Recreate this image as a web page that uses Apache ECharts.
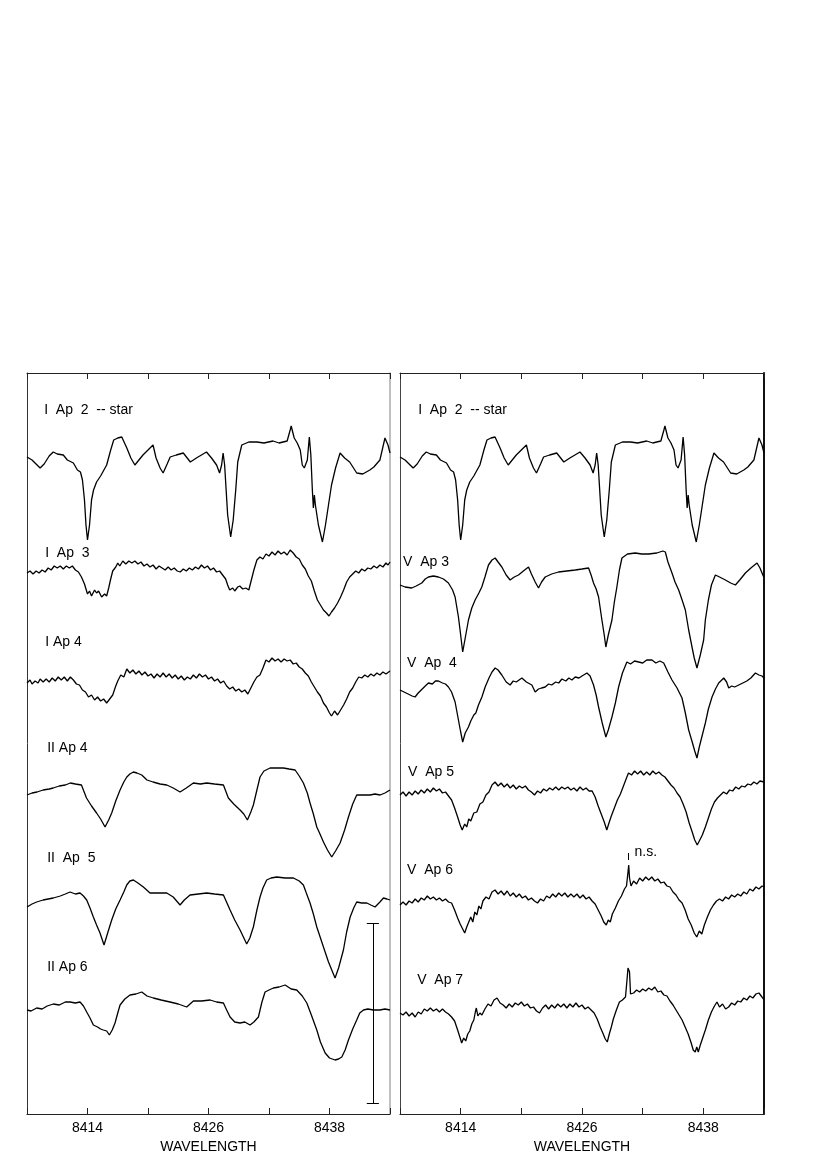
<!DOCTYPE html>
<html>
<head>
<meta charset="utf-8">
<title>Ca II triplet spectra</title>
<script src="https://cdn.jsdelivr.net/npm/echarts@6/dist/echarts.min.js"></script>
<style>
  html, body { margin: 0; padding: 0; background: #fff; }
  #chart { width: 831px; height: 1175px; }
</style>
</head>
<body>
<div id="chart"></div>
<script>
// wavelength axis
const waveMin = 8408
const waveMax = 8444
const tickLabels = [8414, 8426, 8438]

// each spectrum: [wavelength, flux relative to its own continuum]
const starSpec = [
  [8408.0,3],[8408.5,0],[8409.0,-5],[8409.3,-8],[8409.7,-4],[8410.2,4],[8410.6,8],[8411.0,6],[8411.6,5],
  [8412.0,0],[8412.6,-3],[8413.0,-10],[8413.3,-12],[8413.5,-20],[8413.7,-40],[8413.85,-65],[8414.0,-80],
  [8414.2,-65],[8414.4,-40],[8414.6,-30],[8414.9,-22],[8415.3,-16],[8415.9,-5],[8416.3,10],[8416.6,20],
  [8417.0,22],[8417.4,23],[8417.9,12],[8418.3,2],[8418.7,-5],[8419.1,0],[8419.5,5],[8420.0,10],[8420.5,15],
  [8420.8,2],[8421.2,-8],[8421.5,-13],[8421.9,-4],[8422.2,3],[8422.8,5],[8423.5,7],[8424.2,-2],[8424.8,2],
  [8425.3,5],[8425.8,8],[8426.3,2],[8426.8,-5],[8427.1,-13],[8427.3,-5],[8427.45,7],[8427.6,-5],[8427.75,-30],
  [8427.9,-55],[8428.2,-77],[8428.45,-60],[8428.7,-30],[8428.9,-2],[8429.3,15],[8430.0,18],[8430.8,18],
  [8431.5,17],[8432.4,19],[8433.0,17],[8433.8,19],[8434.1,30],[8434.2,34],[8434.5,22],[8434.8,17],[8435.1,10],
  [8435.3,-5],[8435.5,-8],[8435.8,0],[8436.0,23],[8436.15,5],[8436.3,-30],[8436.4,-48],[8436.5,-35],
  [8436.6,-45],[8436.9,-65],[8437.3,-82],[8437.6,-65],[8437.9,-45],[8438.2,-25],[8438.6,-8],[8439.05,7],
  [8439.5,2],[8440.0,-2],[8440.7,-13],[8441.3,-14],[8442.0,-10],[8442.4,-7],[8443.0,0],[8443.5,22],
  [8443.8,15],[8444.0,7]
]

const iAp3 = [
  [8408.0,-3],[8408.3,-1],[8408.6,-4],[8408.9,-1],[8409.2,-3],[8409.5,0],[8409.8,-2],[8410.1,2],[8410.4,0],
  [8410.7,4],[8411.0,2],[8411.3,4],[8411.6,1],[8411.9,4],[8412.2,2],[8412.5,4],[8412.8,0],[8413.1,-2],
  [8413.4,-7],[8413.7,-14],[8414.0,-24],[8414.2,-21],[8414.4,-26],[8414.7,-20],[8414.9,-23],[8415.1,-21],
  [8415.4,-27],[8415.7,-24],[8415.9,-26],[8416.1,-18],[8416.3,-9],[8416.5,-1],[8416.8,3],[8417.0,7],
  [8417.2,4],[8417.5,9],[8417.8,6],[8418.1,9],[8418.4,7],[8418.7,9],[8419.0,6],[8419.3,8],[8419.6,4],
  [8419.9,6],[8420.2,3],[8420.5,5],[8420.8,1],[8421.1,4],[8421.4,2],[8421.7,0],[8422.0,3],[8422.3,0],
  [8422.6,2],[8422.9,-1],[8423.2,-2],[8423.5,1],[8423.8,-1],[8424.1,2],[8424.4,0],[8424.7,3],[8425.0,1],
  [8425.3,5],[8425.6,2],[8425.9,4],[8426.2,0],[8426.5,2],[8426.8,-2],[8427.1,-1],[8427.4,-5],[8427.7,-9],
  [8427.9,-15],[8428.1,-20],[8428.4,-18],[8428.6,-21],[8428.9,-17],[8429.1,-16],[8429.4,-19],[8429.7,-18],
  [8430.0,-20],[8430.2,-12],[8430.5,0],[8430.8,10],[8431.1,13],[8431.4,11],[8431.7,16],[8432.0,14],
  [8432.3,18],[8432.6,15],[8432.9,19],[8433.2,16],[8433.5,18],[8433.8,15],[8434.1,20],[8434.4,17],
  [8434.7,13],[8435.0,11],[8435.3,5],[8435.6,1],[8435.9,-6],[8436.2,-11],[8436.5,-21],[8436.8,-30],
  [8437.1,-35],[8437.4,-40],[8437.7,-43],[8437.95,-46],[8438.2,-42],[8438.5,-38],[8438.8,-33],[8439.1,-27],
  [8439.4,-20],[8439.7,-12],[8440.0,-7],[8440.3,-4],[8440.6,-1],[8440.9,-3],[8441.2,1],[8441.5,-1],
  [8441.8,2],[8442.1,1],[8442.4,4],[8442.7,2],[8443.0,5],[8443.3,3],[8443.6,7],[8443.8,5],[8444.0,8]
]

const iAp4 = [
  [8408.0,-3],[8408.3,0],[8408.5,-4],[8408.8,-1],[8409.1,-3],[8409.3,1],[8409.6,-2],[8409.9,1],[8410.2,-2],
  [8410.5,2],[8410.8,-1],[8411.1,3],[8411.4,0],[8411.7,3],[8412.0,-1],[8412.3,3],[8412.6,0],[8412.9,-4],
  [8413.2,-5],[8413.5,-10],[8413.8,-12],[8414.1,-17],[8414.4,-15],[8414.7,-20],[8415.0,-17],[8415.3,-21],
  [8415.6,-19],[8415.9,-23],[8416.2,-19],[8416.5,-15],[8416.8,-6],[8417.0,-1],[8417.3,5],[8417.6,3],
  [8417.9,11],[8418.2,7],[8418.5,10],[8418.8,6],[8419.1,9],[8419.4,5],[8419.7,8],[8420.0,4],[8420.3,6],
  [8420.6,2],[8420.9,6],[8421.2,3],[8421.5,7],[8421.8,3],[8422.1,6],[8422.4,2],[8422.7,5],[8423.0,1],
  [8423.3,4],[8423.6,0],[8423.9,3],[8424.2,1],[8424.5,5],[8424.8,2],[8425.1,6],[8425.4,3],[8425.7,5],
  [8426.0,1],[8426.3,3],[8426.6,-1],[8426.9,1],[8427.2,-3],[8427.5,-1],[8427.8,-6],[8428.1,-9],[8428.4,-7],
  [8428.7,-11],[8429.0,-9],[8429.3,-12],[8429.6,-10],[8429.9,-14],[8430.2,-8],[8430.5,-2],[8430.8,3],
  [8431.1,5],[8431.4,12],[8431.7,20],[8432.0,18],[8432.3,22],[8432.6,19],[8432.9,21],[8433.2,18],
  [8433.5,21],[8433.8,19],[8434.1,20],[8434.4,16],[8434.7,17],[8435.0,13],[8435.3,11],[8435.6,7],
  [8435.9,4],[8436.2,-2],[8436.5,-7],[8436.8,-12],[8437.1,-16],[8437.4,-23],[8437.7,-27],[8438.0,-33],
  [8438.2,-36],[8438.5,-31],[8438.8,-35],[8439.1,-30],[8439.4,-25],[8439.7,-19],[8440.0,-12],[8440.3,-8],
  [8440.6,-2],[8440.9,3],[8441.2,2],[8441.5,5],[8441.8,3],[8442.1,6],[8442.4,4],[8442.7,7],[8443.0,5],
  [8443.3,8],[8443.6,6],[8444.0,9]
]

const iiAp4 = [
  [8408.0,-5],[8408.5,-3],[8409.0,-2],[8409.6,0],[8410.2,1],[8410.6,2],[8411.2,4],[8411.8,5],[8412.3,7],
  [8412.8,6],[8413.4,5],[8413.9,-8],[8414.4,-16],[8414.9,-23],[8415.3,-29],[8415.74,-37],[8416.1,-30],
  [8416.4,-23],[8416.8,-11],[8417.23,0],[8417.6,8],[8417.9,13],[8418.2,16],[8418.55,18],[8418.9,17],
  [8419.38,15],[8419.9,10],[8420.5,8],[8421.2,6],[8421.86,5],[8422.5,2],[8423.18,-2],[8423.8,2],[8424.5,7],
  [8425.2,6],[8425.82,7],[8426.6,6],[8427.48,5],[8427.97,-8],[8428.5,-14],[8429.13,-20],[8429.5,-24],
  [8429.86,-30],[8430.2,-22],[8430.45,-15],[8430.8,0],[8431.11,13],[8431.5,19],[8432.11,22],[8432.8,22],
  [8433.43,22],[8434.0,21],[8434.59,20],[8435.0,14],[8435.41,7],[8435.8,-3],[8436.07,-13],[8436.4,-24],
  [8436.74,-37],[8437.1,-45],[8437.4,-52],[8437.8,-60],[8438.22,-67],[8438.6,-61],[8439.05,-53],
  [8439.5,-40],[8439.88,-27],[8440.3,-14],[8440.7,-5],[8441.3,-5],[8442.03,-5],[8442.5,-4],[8443.02,-5],
  [8443.5,-3],[8444.0,0]
]

const iiAp5 = [
  [8408.0,-7],[8408.5,-4],[8408.96,-2],[8409.6,0],[8410.61,2],[8411.3,4],[8411.8,6],[8412.27,8],[8412.8,6],
  [8413.26,7],[8413.6,4],[8413.92,0],[8414.25,-8],[8414.58,-17],[8414.9,-25],[8415.24,-33],[8415.64,-45],
  [8416.0,-33],[8416.4,-20],[8416.8,-9],[8417.23,0],[8417.6,8],[8417.89,15],[8418.2,19],[8418.55,20],
  [8419.0,17],[8419.54,13],[8420.2,7],[8421.0,7],[8421.86,7],[8422.5,3],[8423.18,-5],[8423.6,0],[8424.17,5],
  [8425.0,6],[8425.82,7],[8426.6,6],[8427.48,5],[8428.14,-10],[8428.6,-20],[8429.13,-30],[8429.79,-44],
  [8430.1,-38],[8430.45,-27],[8430.8,-10],[8431.11,3],[8431.4,12],[8431.77,20],[8432.2,22],[8432.77,23],
  [8433.6,22],[8434.42,22],[8435.0,19],[8435.41,15],[8435.7,7],[8436.07,-3],[8436.4,-14],[8436.74,-27],
  [8437.4,-47],[8437.9,-62],[8438.55,-78],[8438.9,-68],[8439.38,-50],[8439.7,-32],[8440.05,-17],
  [8440.4,-8],[8440.7,-2],[8441.2,-3],[8441.7,-3],[8442.1,-5],[8442.52,-7],[8443.0,-2],[8443.35,2],
  [8443.7,1],[8444.0,0]
]

const iiAp6 = [
  [8408.0,0],[8408.4,-1],[8408.96,2],[8409.5,1],[8410.0,4],[8410.61,6],[8411.2,5],[8411.8,8],[8412.27,8],
  [8412.8,7],[8413.26,8],[8413.6,4],[8413.92,-2],[8414.25,-8],[8414.58,-15],[8415.0,-17],[8415.3,-19],
  [8415.57,-20],[8415.9,-21],[8416.17,-25],[8416.45,-20],[8416.73,-13],[8417.0,-3],[8417.23,5],[8417.7,11],
  [8418.22,15],[8418.8,16],[8419.38,18],[8419.9,14],[8420.53,12],[8421.3,10],[8422.19,8],[8423.0,6],
  [8423.84,3],[8424.5,9],[8425.3,9],[8426.16,10],[8426.8,8],[8427.48,7],[8427.8,0],[8428.14,-7],
  [8428.6,-12],[8429.13,-13],[8429.6,-12],[8430.12,-15],[8430.5,-12],[8430.95,-7],[8431.3,8],[8431.61,18],
  [8432.0,20],[8432.44,22],[8433.0,23],[8433.6,25],[8434.2,21],[8434.75,20],[8435.3,14],[8435.75,7],
  [8436.2,-5],[8436.74,-20],[8437.1,-32],[8437.57,-43],[8438.0,-48],[8438.55,-50],[8438.9,-49],
  [8439.22,-47],[8439.55,-40],[8439.88,-30],[8440.3,-19],[8440.7,-10],[8441.0,-3],[8441.37,0],[8441.8,1],
  [8442.36,0],[8443.0,0],[8443.5,1],[8444.0,0]
]

const vAp3 = [
  [8408.0,-5],[8408.5,-7],[8409.16,-8],[8409.6,-6],[8410.15,-3],[8410.5,1],[8410.81,3],[8411.3,4],
  [8411.8,3],[8412.3,1],[8412.79,-3],[8413.2,-10],[8413.45,-17],[8413.78,-37],[8414.0,-55],[8414.2,-72],
  [8414.45,-58],[8414.77,-40],[8415.1,-28],[8415.43,-20],[8415.8,-13],[8416.09,-7],[8416.4,3],[8416.75,15],
  [8417.1,20],[8417.41,22],[8417.7,18],[8418.07,13],[8418.5,5],[8418.89,0],[8419.3,3],[8419.72,5],
  [8420.2,9],[8420.71,13],[8421.0,6],[8421.37,-2],[8421.7,-8],[8422.0,-2],[8422.36,3],[8423.0,6],
  [8423.68,8],[8424.5,9],[8425.33,10],[8426.0,11],[8426.65,12],[8426.9,5],[8427.14,-3],[8427.4,-9],
  [8427.64,-17],[8427.97,-40],[8428.2,-55],[8428.36,-67],[8428.6,-55],[8428.96,-40],[8429.2,-22],
  [8429.45,-7],[8429.7,10],[8429.95,22],[8430.5,26],[8431.27,27],[8431.9,26],[8432.59,26],[8433.4,27],
  [8434.0,29],[8434.24,28],[8434.5,18],[8434.9,7],[8435.2,-2],[8435.56,-10],[8435.9,-20],[8436.22,-30],
  [8436.55,-50],[8436.9,-68],[8437.1,-78],[8437.37,-88],[8437.7,-75],[8438.03,-60],[8438.2,-40],
  [8438.5,-20],[8438.8,-5],[8439.19,5],[8439.6,3],[8440.18,0],[8440.7,-3],[8441.17,-5],[8441.6,0],
  [8442.16,7],[8442.7,12],[8443.31,17],[8443.6,12],[8443.97,3]
]

const vAp4 = [
  [8408.0,-5],[8408.4,-7],[8408.8,-9],[8409.2,-11],[8409.49,-12],[8409.8,-8],[8410.1,-5],[8410.5,-1],
  [8410.81,2],[8411.2,1],[8411.5,4],[8411.8,4],[8412.2,2],[8412.5,1],[8412.79,-2],[8413.1,-7],[8413.45,-17],
  [8413.78,-35],[8414.0,-47],[8414.2,-57],[8414.45,-48],[8414.77,-42],[8415.0,-36],[8415.3,-30],
  [8415.5,-28],[8415.76,-20],[8416.1,-12],[8416.42,-2],[8416.8,7],[8417.1,13],[8417.41,17],[8417.7,15],
  [8418.07,10],[8418.5,3],[8418.89,0],[8419.2,4],[8419.5,3],[8420.05,7],[8420.5,3],[8421.04,0],[8421.37,-7],
  [8421.7,-4],[8422.0,-3],[8422.36,-2],[8422.7,1],[8423.0,0],[8423.4,3],[8423.7,2],[8424.01,6],[8424.4,4],
  [8424.7,7],[8425.0,5],[8425.33,8],[8425.7,7],[8426.0,9],[8426.49,12],[8426.8,9],[8427.14,0],[8427.4,-10],
  [8427.64,-22],[8428.0,-38],[8428.36,-52],[8428.6,-45],[8428.96,-32],[8429.3,-18],[8429.62,-2],[8430.0,12],
  [8430.44,23],[8430.8,21],[8431.2,24],[8431.6,23],[8432.0,22],[8432.4,25],[8432.92,25],[8433.3,22],
  [8433.7,24],[8434.08,22],[8434.5,13],[8434.9,5],[8435.4,-3],[8435.89,-13],[8436.2,-27],[8436.55,-45],
  [8436.9,-57],[8437.15,-66],[8437.37,-73],[8437.6,-62],[8437.9,-50],[8438.2,-38],[8438.5,-24],
  [8438.86,-12],[8439.2,-4],[8439.52,2],[8440.02,7],[8440.3,3],[8440.51,-3],[8440.8,-1],[8441.1,-2],
  [8441.5,0],[8441.9,2],[8442.3,4],[8442.7,7],[8443.15,12],[8443.5,10],[8443.8,9],[8444.0,7]
]

const vAp5 = [
  [8408.0,-5],[8408.3,-2],[8408.6,-6],[8408.9,-2],[8409.2,-5],[8409.5,-1],[8409.8,-4],[8410.1,0],[8410.4,-3],
  [8410.7,1],[8411.0,-2],[8411.3,2],[8411.6,-1],[8411.9,1],[8412.2,-3],[8412.5,-2],[8412.8,-6],[8413.1,-10],
  [8413.4,-18],[8413.7,-27],[8413.95,-35],[8414.15,-40],[8414.4,-34],[8414.6,-37],[8414.8,-29],[8415.0,-31],
  [8415.3,-23],[8415.6,-22],[8415.9,-14],[8416.2,-12],[8416.5,-5],[8416.8,-2],[8417.1,5],[8417.4,8],
  [8417.7,4],[8418.0,7],[8418.3,3],[8418.6,6],[8418.9,2],[8419.2,5],[8419.5,1],[8419.8,4],[8420.1,2],
  [8420.4,4],[8420.7,0],[8421.0,-2],[8421.3,-5],[8421.6,-1],[8421.9,-3],[8422.2,1],[8422.5,-1],[8422.8,2],
  [8423.1,0],[8423.4,3],[8423.7,0],[8424.0,3],[8424.3,1],[8424.6,3],[8424.9,0],[8425.2,2],[8425.5,-1],
  [8425.8,3],[8426.1,0],[8426.4,2],[8426.7,-1],[8427.0,-1],[8427.3,-7],[8427.6,-16],[8427.9,-24],
  [8428.2,-32],[8428.45,-40],[8428.7,-32],[8428.9,-26],[8429.2,-18],[8429.5,-10],[8429.8,-4],[8430.1,4],
  [8430.4,12],[8430.6,17],[8430.9,15],[8431.2,19],[8431.5,16],[8431.8,19],[8432.1,15],[8432.4,18],
  [8432.7,15],[8433.0,19],[8433.3,16],[8433.6,18],[8433.9,15],[8434.2,13],[8434.5,9],[8434.8,5],[8435.1,2],
  [8435.4,-3],[8435.7,-7],[8436.0,-14],[8436.3,-22],[8436.6,-33],[8436.9,-42],[8437.15,-50],[8437.4,-55],
  [8437.65,-50],[8437.9,-45],[8438.2,-37],[8438.5,-28],[8438.8,-19],[8439.1,-12],[8439.4,-8],[8439.7,-5],
  [8440.0,-2],[8440.3,-4],[8440.6,0],[8440.9,-1],[8441.2,3],[8441.5,1],[8441.8,4],[8442.1,3],[8442.4,6],
  [8442.7,5],[8443.0,8],[8443.3,6],[8443.6,9],[8444.0,8]
]

const vAp6 = [
  [8408.0,-5],[8408.3,-2],[8408.6,-5],[8408.9,-1],[8409.2,-3],[8409.5,1],[8409.8,-2],[8410.1,2],[8410.4,0],
  [8410.7,4],[8411.0,1],[8411.3,3],[8411.6,0],[8411.9,2],[8412.2,-1],[8412.5,1],[8412.8,-2],[8413.1,-3],
  [8413.4,-10],[8413.7,-18],[8413.95,-24],[8414.2,-29],[8414.4,-33],[8414.6,-27],[8414.8,-22],[8415.0,-17],
  [8415.2,-22],[8415.4,-12],[8415.6,-15],[8415.8,-6],[8416.0,-9],[8416.2,-1],[8416.5,3],[8416.8,1],
  [8417.1,8],[8417.4,10],[8417.7,6],[8418.0,9],[8418.3,5],[8418.6,9],[8418.9,4],[8419.2,7],[8419.5,3],
  [8419.8,6],[8420.1,2],[8420.4,4],[8420.7,0],[8421.0,2],[8421.3,-1],[8421.6,-3],[8421.9,1],[8422.2,-1],
  [8422.5,4],[8422.8,2],[8423.1,6],[8423.4,3],[8423.7,7],[8424.0,4],[8424.3,7],[8424.6,3],[8424.9,6],
  [8425.2,3],[8425.5,6],[8425.8,2],[8426.1,5],[8426.4,1],[8426.7,3],[8427.0,-1],[8427.3,-4],[8427.6,-10],
  [8427.9,-16],[8428.15,-22],[8428.4,-25],[8428.6,-20],[8428.8,-22],[8429.0,-14],[8429.3,-8],[8429.6,-1],
  [8429.9,4],[8430.2,11],[8430.4,14],[8430.55,28],[8430.62,35],[8430.7,22],[8430.85,14],[8431.1,19],
  [8431.4,16],[8431.7,22],[8432.0,19],[8432.3,23],[8432.6,20],[8432.9,23],[8433.2,19],[8433.5,21],
  [8433.8,17],[8434.1,18],[8434.4,14],[8434.7,13],[8435.0,8],[8435.3,5],[8435.6,0],[8435.9,-3],
  [8436.2,-10],[8436.5,-19],[8436.8,-25],[8437.1,-33],[8437.35,-37],[8437.6,-31],[8437.85,-34],
  [8438.1,-25],[8438.4,-17],[8438.7,-10],[8439.0,-5],[8439.3,-1],[8439.6,1],[8439.9,-1],[8440.2,3],
  [8440.5,1],[8440.8,5],[8441.1,3],[8441.4,6],[8441.7,4],[8442.0,8],[8442.3,6],[8442.6,11],[8442.9,9],
  [8443.2,13],[8443.5,11],[8443.8,14],[8444.0,13]
]

const vAp7 = [
  [8408.0,-3],[8408.3,-5],[8408.6,-2],[8408.9,-6],[8409.2,-3],[8409.5,-7],[8409.8,-2],[8410.1,-4],
  [8410.4,1],[8410.7,-1],[8411.0,2],[8411.3,-1],[8411.6,1],[8411.9,-2],[8412.2,1],[8412.5,-2],[8412.8,-4],
  [8413.1,-7],[8413.4,-11],[8413.7,-20],[8413.95,-28],[8414.1,-33],[8414.3,-28],[8414.5,-31],[8414.7,-24],
  [8414.9,-21],[8415.1,-14],[8415.3,-10],[8415.45,-2],[8415.55,2],[8415.7,-6],[8415.9,-3],[8416.1,-5],
  [8416.4,1],[8416.7,6],[8417.0,4],[8417.3,10],[8417.6,12],[8417.9,7],[8418.2,5],[8418.5,2],[8418.8,6],
  [8419.1,3],[8419.4,7],[8419.7,5],[8420.0,8],[8420.3,4],[8420.6,6],[8420.9,2],[8421.2,3],[8421.5,-1],
  [8421.8,-3],[8422.1,2],[8422.4,5],[8422.7,1],[8423.0,5],[8423.3,2],[8423.6,6],[8423.9,3],[8424.2,6],
  [8424.5,2],[8424.8,6],[8425.1,3],[8425.4,7],[8425.7,3],[8426.0,5],[8426.3,1],[8426.6,3],[8426.9,0],
  [8427.2,-3],[8427.5,-9],[8427.8,-17],[8428.1,-24],[8428.3,-29],[8428.5,-32],[8428.7,-24],[8428.9,-17],
  [8429.1,-9],[8429.4,0],[8429.7,8],[8430.0,10],[8430.3,13],[8430.45,30],[8430.55,42],[8430.7,38],
  [8430.8,16],[8431.1,17],[8431.4,20],[8431.7,18],[8432.0,21],[8432.3,19],[8432.6,22],[8432.9,20],
  [8433.2,23],[8433.5,18],[8433.8,19],[8434.1,15],[8434.4,14],[8434.7,9],[8435.0,5],[8435.3,0],
  [8435.6,-5],[8435.9,-10],[8436.2,-17],[8436.5,-24],[8436.8,-33],[8437.0,-40],[8437.2,-42],[8437.35,-37],
  [8437.5,-42],[8437.7,-35],[8437.9,-29],[8438.2,-20],[8438.5,-10],[8438.8,-2],[8439.1,4],[8439.35,8],
  [8439.6,3],[8439.9,6],[8440.2,1],[8440.5,3],[8440.8,7],[8441.1,5],[8441.4,9],[8441.7,8],[8442.0,12],
  [8442.3,10],[8442.6,14],[8442.9,12],[8443.2,16],[8443.5,17],[8443.8,13],[8444.0,10]
]

// vertical offsets of the stacked spectra (same flux units)
const leftSpectra = [starSpec, iAp3, iAp4, iiAp4, iiAp5, iiAp6]
const leftOffsets = [654, 544, 434, 324, 214, 104]
const leftNames = ['I  Ap  2  -- star', 'I  Ap  3', 'I Ap 4', 'II Ap 4', 'II  Ap  5', 'II Ap 6']

const rightSpectra = [starSpec, vAp3, vAp4, vAp5, vAp6, vAp7]
const rightOffsets = [654, 534, 429, 324, 214, 104]
const rightNames = ['I  Ap  2  -- star', 'V  Ap 3', 'V  Ap  4', 'V  Ap 5', 'V  Ap 6', 'V  Ap 7']

// scale bar (flux units) in the left panel
const scaleBar = [11, 191]

// label anchors [wavelength, flux]
const leftLabelAt = [[8409.7, 704], [8409.8, 561], [8409.8, 472], [8410.0, 366], [8410.0, 256], [8410.0, 147]]
const rightLabelAt = [[8409.8, 704], [8408.3, 552], [8408.7, 451], [8408.8, 342], [8408.7, 244], [8409.7, 134]]

const FONT = '"Liberation Sans", Arial, Helvetica, sans-serif'
const chart = echarts.init(document.getElementById('chart'))

const shift = (spec, off) => spec.map(p => [p[0], p[1] + off])

const xBottom = (gi) => ({
  type: 'value', gridIndex: gi, position: 'bottom',
  min: waveMin, max: waveMax, interval: 6,
  axisLine: { show: true, onZero: false, lineStyle: { color: '#222', width: 1.2 } },
  axisTick: { show: true, inside: true, length: 6, lineStyle: { color: '#222' } },
  axisLabel: {
    margin: 7, color: '#000', fontSize: 14, fontFamily: FONT,
    formatter: v => tickLabels.includes(v) ? String(v) : ''
  },
  splitLine: { show: false },
  name: 'WAVELENGTH', nameLocation: 'middle', nameGap: 22,
  nameTextStyle: { color: '#000', fontSize: 14, fontFamily: FONT }
})
const xTop = (gi) => ({
  type: 'value', gridIndex: gi, position: 'top',
  min: waveMin, max: waveMax, interval: 6,
  axisLine: { show: true, onZero: false, lineStyle: { color: '#222', width: 1.2 } },
  axisTick: { show: true, inside: true, length: 6, lineStyle: { color: '#222' } },
  axisLabel: { show: false },
  splitLine: { show: false }
})
const yAxis = (gi, pos, color, width) => ({
  type: 'value', gridIndex: gi, position: pos, min: 0, max: 741,
  axisLine: { show: true, onZero: false, lineStyle: { color: color, width: width } },
  axisTick: { show: false }, axisLabel: { show: false }, splitLine: { show: false }
})

const series = []
leftSpectra.forEach((s, i) => {
  series.push({
    type: 'line', xAxisIndex: 0, yAxisIndex: 0, data: shift(s, leftOffsets[i]),
    showSymbol: false, lineStyle: { color: '#000', width: 1.3 }, silent: true
  })
})
rightSpectra.forEach((s, i) => {
  series.push({
    type: 'line', xAxisIndex: 2, yAxisIndex: 2, data: shift(s, rightOffsets[i]),
    showSymbol: false, lineStyle: { color: '#000', width: 1.3 }, silent: true
  })
})

// text labels sit on invisible scatter points
const labelSeries = (xi, yi, at, names, extra) => ({
  type: 'scatter', xAxisIndex: xi, yAxisIndex: yi, symbolSize: 0, silent: true,
  itemStyle: { opacity: 1 },
  data: at.map((p, i) => ({ value: p, name: names[i] })).concat(extra || []),
  label: {
    show: true, position: 'right', distance: 0, formatter: '{b}',
    color: '#000', fontSize: 14, fontFamily: FONT
  }
})
series.push(labelSeries(0, 0, leftLabelAt, leftNames))
series.push(labelSeries(2, 2, rightLabelAt, rightNames, [{ value: [8431.2, 262], name: 'n.s.' }]))

// scale bar with end caps
const sbX = 8442.3
series.push({
  type: 'line', xAxisIndex: 0, yAxisIndex: 0, data: [], silent: true,
  markLine: {
    symbol: ['none', 'none'], silent: true, animation: false,
    label: { show: false },
    lineStyle: { color: '#000', width: 1, type: 'solid' },
    data: [
      [{ coord: [sbX, scaleBar[0]] }, { coord: [sbX, scaleBar[1]] }],
      [{ coord: [sbX - 0.6, scaleBar[0]] }, { coord: [sbX + 0.6, scaleBar[0]] }],
      [{ coord: [sbX - 0.6, scaleBar[1]] }, { coord: [sbX + 0.6, scaleBar[1]] }]
    ]
  }
})
// n.s. marker above the V Ap 6 spike
series.push({
  type: 'line', xAxisIndex: 2, yAxisIndex: 2, data: [], silent: true,
  markLine: {
    symbol: ['none', 'none'], silent: true, animation: false,
    label: { show: false },
    lineStyle: { color: '#000', width: 1, type: 'solid' },
    data: [[{ coord: [8430.57, 254] }, { coord: [8430.57, 261] }]]
  }
})

chart.setOption({
  animation: false,
  backgroundColor: '#fff',
  grid: [
    { left: 27, top: 373, width: 363, height: 741, show: false },
    { left: 400, top: 373, width: 364, height: 741, show: false }
  ],
  xAxis: [xBottom(0), xTop(0), xBottom(1), xTop(1)],
  yAxis: [
    yAxis(0, 'left', '#333', 1), yAxis(0, 'right', '#aaa', 1.5),
    yAxis(1, 'left', '#444', 1), yAxis(1, 'right', '#111', 2)
  ],
  series: series
})
</script>
</body>
</html>
